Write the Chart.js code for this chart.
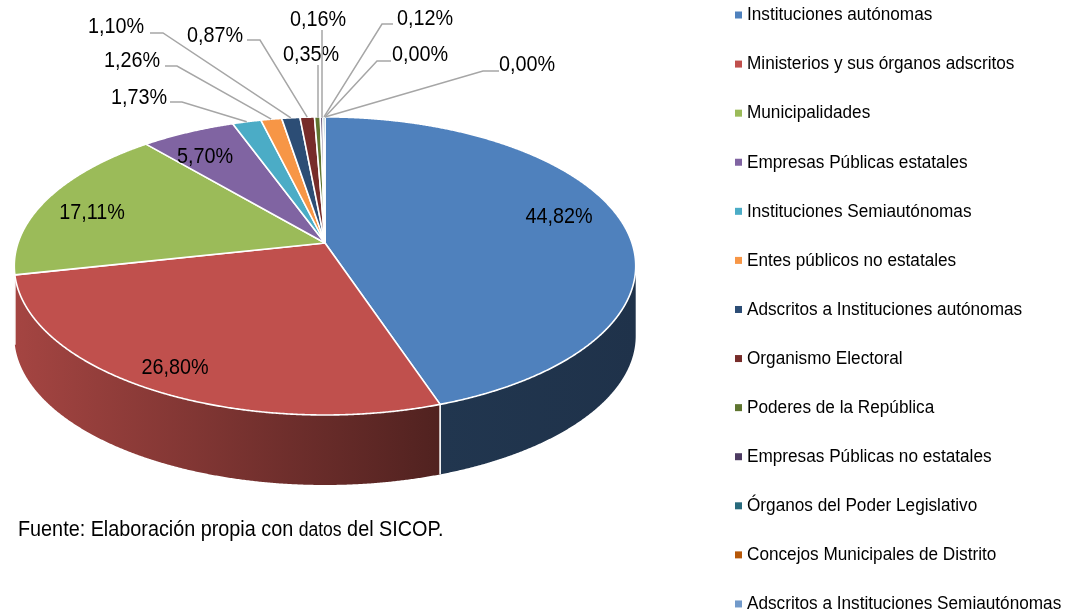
<!DOCTYPE html>
<html>
<head>
<meta charset="utf-8">
<script src="https://cdn.jsdelivr.net/npm/chart.js@4.4.1/dist/chart.umd.min.js"></script>
<style>
  body { margin:0; background:#fff; }
  canvas { display:block; }
</style>
</head>
<body>
<canvas id="pie" width="1070" height="614"></canvas>
<script>
// data (Excel style 3D pie)
const categories = [
  "Instituciones autónomas",
  "Ministerios y sus órganos adscritos",
  "Municipalidades",
  "Empresas Públicas estatales",
  "Instituciones Semiautónomas",
  "Entes públicos no estatales",
  "Adscritos a Instituciones autónomas",
  "Organismo Electoral",
  "Poderes de la República",
  "Empresas Públicas no estatales",
  "Órganos del Poder Legislativo",
  "Concejos Municipales de Distrito",
  "Adscritos a Instituciones Semiautónomas"
];
const shares = [44.82, 26.80, 17.11, 5.70, 1.73, 1.26, 1.10, 0.87, 0.35, 0.16, 0.12, 0.00, 0.00];
const colors = ["#4F81BD","#C0504D","#9BBB59","#8064A2","#4BACC6","#F79646",
                "#2C4D75","#772C2A","#5F7530","#4D3B62","#276A7C","#B65708","#729ACA"];
const source = ["Fuente: Elaboración propia con ", "datos", " del SICOP."];

// label placement: inside labels are centred, outside ones carry a leader line
const labelPos = [
  {x:559, y:217}, {x:175, y:368}, {x:92, y:213}, {x:205, y:157},
  {x:139, y:98,  line:[[182,102],[170,102]]},
  {x:132, y:61,  line:[[177,66],[165,66]]},
  {x:116, y:27,  line:[[163,33],[150,33]]},
  {x:215, y:36,  line:[[260,40],[247,40]]},
  {x:311, y:55,  line:[[318,65]], vertical:true},
  {x:318, y:20,  line:[[322,30]], vertical:true},
  {x:425, y:19,  line:[[382,24],[393,24]]},
  {x:420, y:55,  line:[[377,61],[391,61]]},
  {x:527, y:65,  line:[[483,71],[499,71]]}
];

const FONT = '"Liberation Sans",Arial,sans-serif';
const STRETCH = 0.9;

// perspective of the tilted disc
const P = {cx:325, cy:243, k:307, m:145.5, e:0.154, depth:70};
function proj(t, r, dz) {
  const c = Math.cos(t), s = Math.sin(t), w = 1 + P.e*r*c;
  return [P.cx + P.k*r*s/w, P.cy - P.m*r*c/w + (dz||0)];
}
function shade(hex, f) {
  const n = parseInt(hex.slice(1),16);
  const r = Math.round(((n>>16)&255)*f), g = Math.round(((n>>8)&255)*f), b = Math.round((n&255)*f);
  return `rgb(${r},${g},${b})`;
}
function text(ctx, str, x, y, size, align) {
  ctx.save();
  ctx.font = size + "px " + FONT;
  ctx.textBaseline = "middle";
  const w = ctx.measureText(str).width*STRETCH;
  let x0 = x;
  if (align==="center") x0 = x - w/2;
  if (align==="right") x0 = x - w;
  ctx.translate(x0, y);
  ctx.scale(STRETCH, 1);
  ctx.textAlign = "left";
  ctx.fillText(str, 0, 0);
  ctx.restore();
  return w;
}

const pie3d = {
  id: "pie3d",
  beforeDatasetsDraw(chart) {
    const ctx = chart.ctx;
    const arcs = chart.getDatasetMeta(0).data;
    const tR = Math.acos(-P.e), tL = 2*Math.PI - tR;
    const step = 0.004;
    ctx.save();
    // front wall
    arcs.forEach((a,i)=>{
      const t0 = a.startAngle + Math.PI/2, t1 = a.endAngle + Math.PI/2;
      const lo = Math.max(t0,tR), hi = Math.min(t1,tL);
      if (hi <= lo) return;
      const top = [];
      for (let t=lo; t<hi; t+=step) top.push(proj(t,1));
      top.push(proj(hi,1));
      const g = ctx.createLinearGradient(12,0,638,0);
      g.addColorStop(0, shade(colors[i],0.86));
      g.addColorStop(0.68, shade(colors[i],0.42));
      g.addColorStop(1, shade(colors[i],0.39));
      ctx.beginPath();
      top.forEach((p,j)=> j? ctx.lineTo(p[0],p[1]) : ctx.moveTo(p[0],p[1]));
      for (let j=top.length-1; j>=0; j--) ctx.lineTo(top[j][0], top[j][1]+P.depth);
      ctx.closePath();
      ctx.fillStyle = g;
      ctx.fill();
    });
    ctx.strokeStyle = "#fff";
    ctx.lineWidth = 1.6;
    arcs.forEach(a=>{
      const t0 = a.startAngle + Math.PI/2;
      if (t0 > tR && t0 < tL) {
        const p = proj(t0,1);
        ctx.beginPath();
        ctx.moveTo(p[0],p[1]);
        ctx.lineTo(p[0],p[1]+P.depth);
        ctx.stroke();
      }
    });
    // top faces
    ctx.lineJoin = "round";
    arcs.forEach((a,i)=>{
      const t0 = a.startAngle + Math.PI/2, t1 = a.endAngle + Math.PI/2;
      if (t1 - t0 < 1e-6) return;
      ctx.beginPath();
      ctx.moveTo(P.cx, P.cy);
      for (let t=t0; t<t1; t+=step) { const p = proj(t,1); ctx.lineTo(p[0],p[1]); }
      const pe = proj(t1,1); ctx.lineTo(pe[0],pe[1]);
      ctx.closePath();
      ctx.fillStyle = colors[i];
      ctx.fill();
      ctx.stroke();
    });
    ctx.restore();
    return false;
  },
  afterDraw(chart) {
    const ctx = chart.ctx;
    const arcs = chart.getDatasetMeta(0).data;
    ctx.save();
    // percentage labels
    ctx.fillStyle = "#000";
    arcs.forEach((a,i)=>{
      const lab = shares[i].toFixed(2).replace(".",",") + "%";
      const L = labelPos[i];
      if (L.line) {
        const mid = (a.startAngle + a.endAngle)/2 + Math.PI/2;
        const anchor = proj(mid,1);
        ctx.beginPath();
        ctx.strokeStyle = "#a6a6a6";
        ctx.lineWidth = 1.5;
        ctx.moveTo(anchor[0], anchor[1]);
        if (L.vertical) ctx.lineTo(L.line[0][0], anchor[1]);
        L.line.forEach(p=>ctx.lineTo(p[0],p[1]));
        ctx.stroke();
      }
      text(ctx, lab, L.x, L.y, 22, "center");
    });
    // legend
    categories.forEach((c,i)=>{
      const y = 15 + i*49.08;
      ctx.fillStyle = colors[i];
      ctx.fillRect(735, y-3.5, 7, 7);
      ctx.fillStyle = "#000";
      text(ctx, c, 747, y, 19.1, "left");
    });
    // source note
    let x = 18;
    x += text(ctx, source[0], x, 530, 22, "left");
    x += text(ctx, source[1], x, 531, 19.5, "left");
    text(ctx, source[2], x, 530, 22, "left");
    ctx.restore();
  }
};

new Chart(document.getElementById("pie"), {
  type: "pie",
  data: {
    labels: categories,
    datasets: [{ data: shares, backgroundColor: colors, borderColor: "#fff", borderWidth: 1.5 }]
  },
  options: {
    responsive: false,
    animation: false,
    devicePixelRatio: 1,
    layout: { padding: { left: 10, right: 440, top: 110, bottom: 120 } },
    plugins: { legend: { display: false }, tooltip: { enabled: false } }
  },
  plugins: [pie3d]
});
</script>
</body>
</html>
